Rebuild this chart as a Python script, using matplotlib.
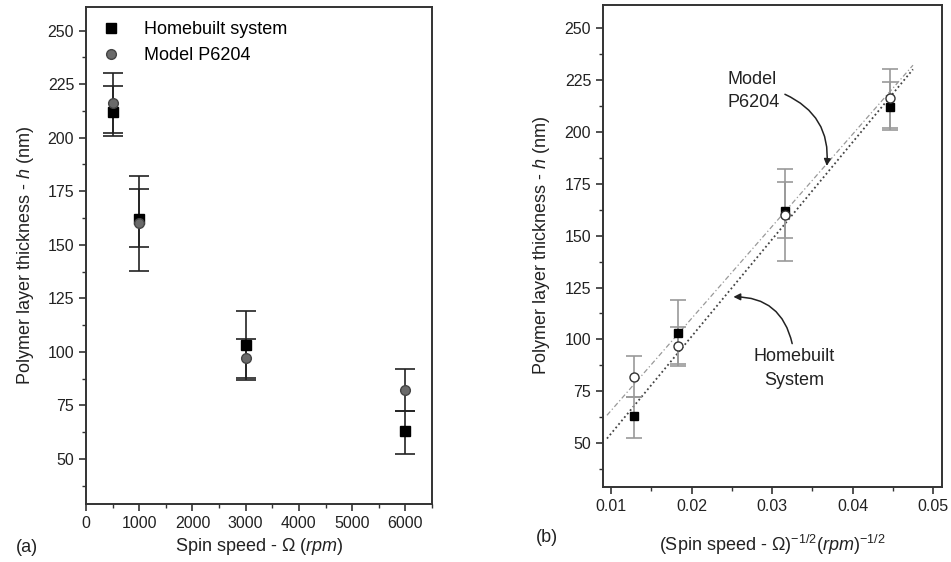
import numpy as np
import matplotlib
matplotlib.use("Agg")
import matplotlib.pyplot as plt
from matplotlib.ticker import MultipleLocator

plt.rcParams['font.family'] = ['Liberation Sans', 'DejaVu Sans']
plt.rcParams['mathtext.fontset'] = 'custom'
plt.rcParams['mathtext.rm'] = 'Liberation Sans'
plt.rcParams['mathtext.it'] = 'Liberation Sans:italic'

# data
rpm = [500, 1000, 3000, 6000]
inv_sqrt_rpm = [0.0447, 0.0316, 0.0183, 0.0129]

home_h = [212, 162, 103, 63]
home_err_lo = [11, 13, 16, 10.5]
home_err_hi = [12, 14, 16, 9.5]

model_h = [216, 160, 97, 82]
model_err_lo = [14, 22, 9, 9.5]
model_err_hi = [14, 22, 9, 10]

# fitted lines in panel (b): end points
home_fit_x = [0.0095, 0.0475]
home_fit_y = [52.3, 230]
model_fit_x = [0.0095, 0.0475]
model_fit_y = [63.5, 232]

fig = plt.figure(figsize=(9.51, 5.62), dpi=100)
axA = fig.add_axes([0.0904, 0.1032, 0.3639, 0.8843])
axB = fig.add_axes([0.634, 0.1335, 0.3565, 0.8577])

spine_col = '#333333'
txt_col = '#222222'
for ax in (axA, axB):
    for s in ax.spines.values():
        s.set_color(spine_col)
        s.set_linewidth(1.4)
    ax.tick_params(which='major', direction='out', length=5, width=1.2,
                   labelsize=11.5, colors=spine_col, labelcolor=txt_col)
    ax.tick_params(which='minor', direction='out', length=3, width=1.0, colors=spine_col)
    ax.set_ylim(29, 261)
    ax.yaxis.set_minor_locator(MultipleLocator(12.5))
    ax.set_yticks([50, 75, 100, 125, 150, 175, 200, 225, 250])

axA.set_ylabel(r'Polymer layer thickness - $\it{h}$ (nm)', fontsize=13, color=txt_col, labelpad=8)
axB.set_ylabel(r'Polymer layer thickness - $\it{h}$ (nm)', fontsize=13, color=txt_col, labelpad=9)

# ---- panel (a)
axA.errorbar(rpm, home_h, yerr=[home_err_lo, home_err_hi], fmt='none',
             ecolor='#222222', elinewidth=1.2, capsize=7, capthick=1.2)
axA.errorbar(rpm, model_h, yerr=[model_err_lo, model_err_hi], fmt='none',
             ecolor='#222222', elinewidth=1.2, capsize=7, capthick=1.2)
axA.plot(rpm, home_h, 's', color='black', ms=7, label='Homebuilt system', zorder=3)
axA.plot(rpm, model_h, 'o', color='#6a6a6a', mec='#444444', ms=7, label='Model P6204', zorder=4)
axA.set_xlim(0, 6500)
axA.xaxis.set_major_locator(MultipleLocator(1000))
axA.xaxis.set_minor_locator(MultipleLocator(500))
axA.set_xlabel(r'Spin speed - $\Omega$ ($\it{rpm}$)', fontsize=13, color=txt_col)
axA.legend(loc='upper left', frameon=False, fontsize=13, handletextpad=1.2,
           borderaxespad=0.4, handlelength=1.2, labelspacing=0.5)
fig.text(0.017, 0.018, '(a)', fontsize=13, color=txt_col)

# ---- panel (b)
axB.plot(model_fit_x, model_fit_y, linestyle=(0, (4, 2, 1, 2)), color='#999999', lw=0.9)
axB.plot(home_fit_x, home_fit_y, linestyle=(0, (1, 1.5)), color='#444444', lw=1.3)
axB.errorbar(inv_sqrt_rpm, home_h, yerr=[home_err_lo, home_err_hi], fmt='none',
             ecolor='#999999', elinewidth=1.2, capsize=6, capthick=1.2)
axB.errorbar(inv_sqrt_rpm, model_h, yerr=[model_err_lo, model_err_hi], fmt='none',
             ecolor='#999999', elinewidth=1.2, capsize=6, capthick=1.2)
axB.plot(inv_sqrt_rpm, home_h, 's', color='black', ms=6, zorder=3)
axB.plot(inv_sqrt_rpm, model_h, 'o', mfc='white', mec='#333333', ms=6.5, mew=1.0, zorder=4)
axB.set_xlim(0.009, 0.0511)
axB.set_xticks([0.01, 0.02, 0.03, 0.04, 0.05])
axB.set_xticklabels(['0.01', '0.02', '0.03', '0.04', '0.05'])
axB.xaxis.set_minor_locator(MultipleLocator(0.005))
axB.set_xlabel(r'(Spin speed - $\Omega$)$^{\mathrm{-1/2}}$($\it{rpm}$)$^{\mathrm{-1/2}}$',
               fontsize=13, color=txt_col, labelpad=14)

axB.text(0.0245, 219.5, 'Model\nP6204', ha='left', va='center', fontsize=13,
         color=txt_col, linespacing=1.5, multialignment='left')
axB.annotate('', xy=(0.0368, 183.5), xytext=(0.0316, 218),
             arrowprops=dict(arrowstyle='-|>', color=txt_col, lw=1.1,
                             connectionstyle='arc3,rad=-0.35', shrinkA=0, shrinkB=0))
axB.text(0.0327, 86, 'Homebuilt\nSystem', ha='center', va='center', fontsize=13,
         color=txt_col, linespacing=1.5)
axB.annotate('', xy=(0.0252, 120.5), xytext=(0.0325, 98),
             arrowprops=dict(arrowstyle='-|>', color=txt_col, lw=1.1,
                             connectionstyle='arc3,rad=0.4', shrinkA=0, shrinkB=0))
fig.text(0.563, 0.035, '(b)', fontsize=13, color=txt_col)

fig.savefig('out.png', dpi=100)
